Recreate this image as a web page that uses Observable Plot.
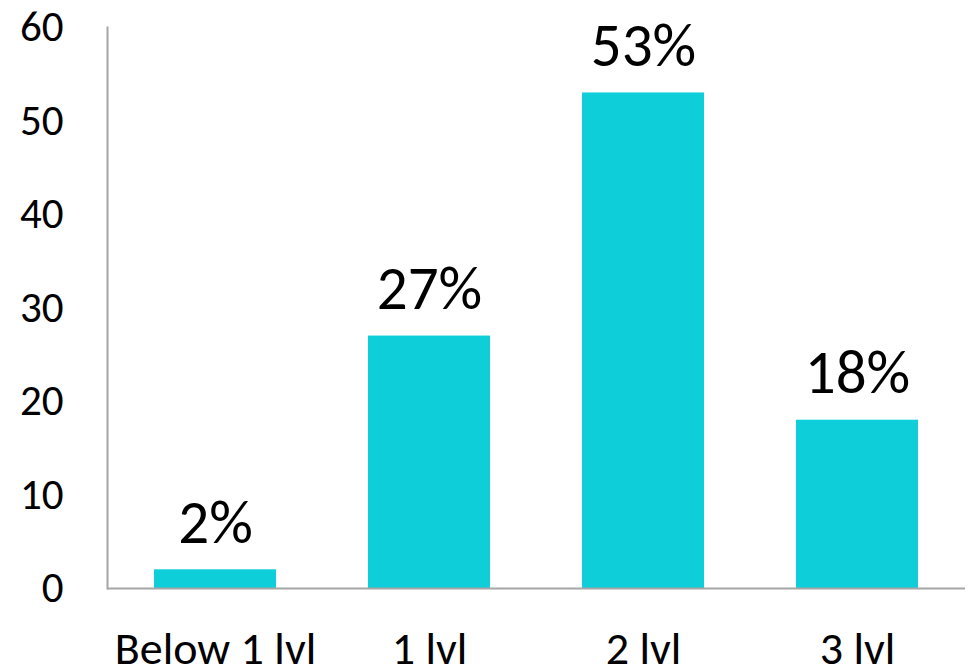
<!DOCTYPE html>
<html>
<head>
<meta charset="utf-8">
<script src="https://cdn.jsdelivr.net/npm/d3@7"></script>
<script src="https://cdn.jsdelivr.net/npm/@observablehq/plot@0.6"></script>
<style>
  html, body { margin: 0; padding: 0; background: #fff; }
  #chart svg { font-family: Carlito, Calibri, Lato, sans-serif; }
</style>
</head>
<body>
<div id="chart"></div>
<script>
// Share of respondents by level
const levels = ["Below 1 lvl", "1 lvl", "2 lvl", "3 lvl"];
const shares = [2, 27, 53, 18];
const yTicks = [0, 10, 20, 30, 40, 50, 60];

const rows = levels.map((level, i) => ({level, share: shares[i]}));

const chart = Plot.plot({
  width: 968,
  height: 670,
  marginLeft: 107,
  marginRight: 3,
  marginTop: 27,
  marginBottom: 82,
  style: {background: "#fff", color: "#000", overflow: "visible"},
  x: {domain: levels, paddingInner: 0.43, paddingOuter: 0.215, label: null},
  y: {domain: [0, 60], label: null},
  marks: [
    Plot.barY(rows, {x: "level", y: "share", fill: "#0ecfd9"}),
    Plot.text(rows, {
      x: "level", y: "share", text: d => `${d.share}%`,
      lineAnchor: "bottom", dy: -27, fontSize: 61, fill: "#000"
    }),
    Plot.axisY({
      ticks: yTicks, tickSize: 0, tickPadding: 44, fontSize: 43,
      label: null, textAnchor: "end"
    }),
    Plot.axisX({
      tickSize: 0, tickPadding: 43, fontSize: 46, label: null
    }),
    Plot.frame({anchor: "left", stroke: "#a6a6a6", strokeWidth: 2}),
    Plot.ruleY([0], {stroke: "#a6a6a6", strokeWidth: 2})
  ]
});

document.getElementById("chart").appendChild(chart);
</script>
</body>
</html>
